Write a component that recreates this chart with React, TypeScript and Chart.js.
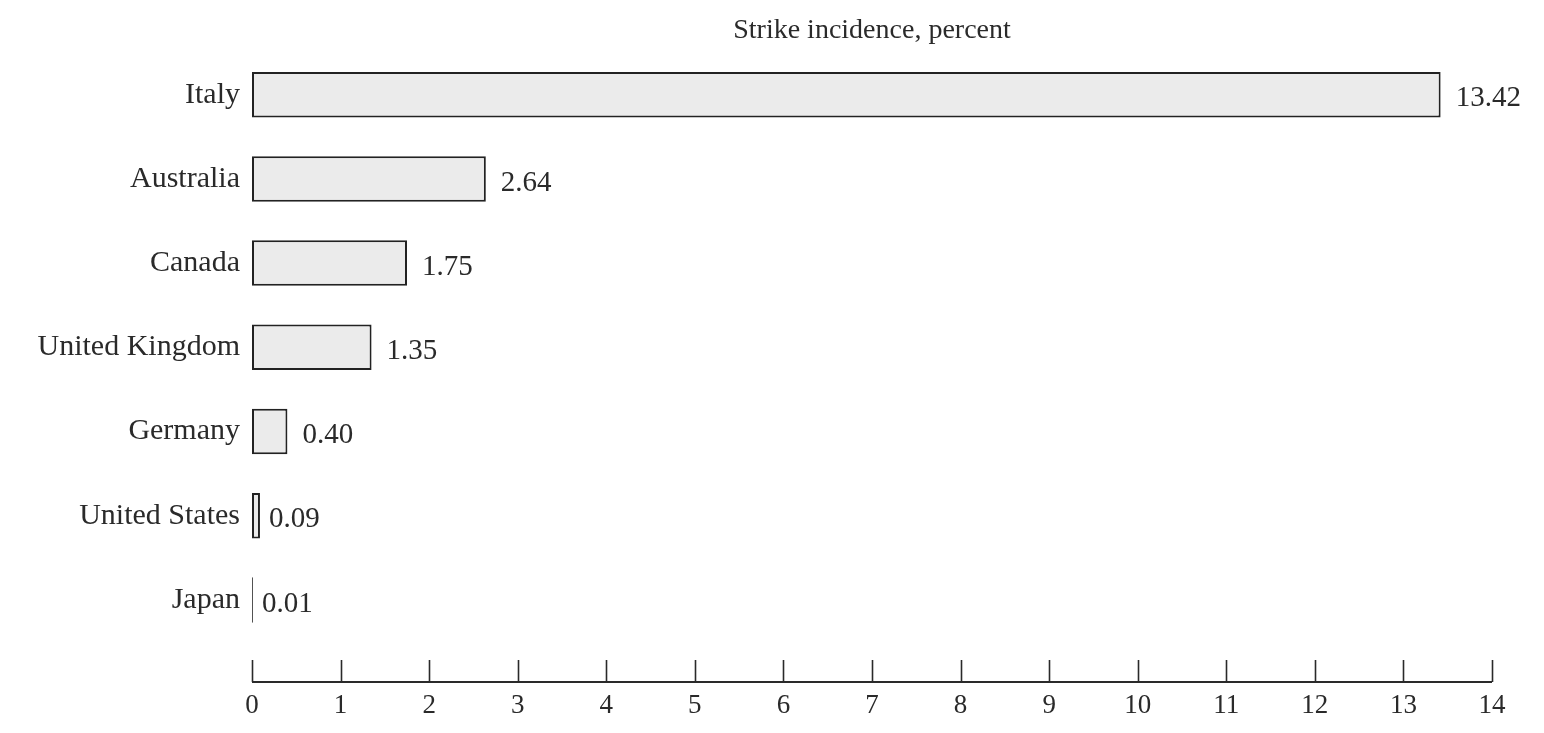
import React, { useEffect, useRef } from "react";
import { Chart, registerables } from "chart.js";

Chart.register(...registerables);

const countries = ["Italy", "Australia", "Canada", "United Kingdom", "Germany", "United States", "Japan"];
const strikeIncidence = [13.42, 2.64, 1.75, 1.35, 0.4, 0.09, 0.01];
const valueLabels = ["13.42", "2.64", "1.75", "1.35", "0.40", "0.09", "0.01"];
const axisTicks = [0, 1, 2, 3, 4, 5, 6, 7, 8, 9, 10, 11, 12, 13, 14];
const titleText = "Strike incidence, percent";

const FONT = "'Liberation Serif', 'DejaVu Serif', serif";
const INK = "#2a2a2a";

const overlayPlugin = {
  id: "overlay",
  afterDatasetsDraw(chart: any) {
    const ctx = chart.ctx;
    const xs = chart.scales.x;
    const area = chart.chartArea;
    const meta = chart.getDatasetMeta(0);
    ctx.save();
    ctx.fillStyle = INK;
    ctx.font = `29px ${FONT}`;
    ctx.textAlign = "left";
    ctx.textBaseline = "middle";
    meta.data.forEach((bar: any, i: number) => {
      const gap = i >= 5 ? 9 : 15;
      ctx.fillText(valueLabels[i], bar.x + gap, bar.y + 4);
    });
    const axisY = area.bottom + 40;
    ctx.strokeStyle = INK;
    ctx.lineWidth = 2;
    ctx.beginPath();
    ctx.moveTo(xs.getPixelForValue(axisTicks[0]), axisY);
    ctx.lineTo(xs.getPixelForValue(axisTicks[axisTicks.length - 1]), axisY);
    ctx.stroke();
    ctx.lineWidth = 1.6;
    axisTicks.forEach((t) => {
      const px = Math.round(xs.getPixelForValue(t)) + 0.5;
      ctx.beginPath();
      ctx.moveTo(px, axisY);
      ctx.lineTo(px, axisY - 22);
      ctx.stroke();
    });
    ctx.restore();
  },
};

export default function App() {
  const ref = useRef<HTMLCanvasElement | null>(null);
  useEffect(() => {
    if (!ref.current) return;
    const chart = new Chart(ref.current, {
      type: "bar",
      data: {
        labels: countries,
        datasets: [
          {
            data: strikeIncidence,
            backgroundColor: "#ebebeb",
            borderColor: "#222222",
            borderWidth: 2,
            borderSkipped: false,
            categoryPercentage: 1,
            barPercentage: 0.54,
          },
        ],
      },
      options: {
        indexAxis: "y",
        animation: false,
        responsive: false,
        layout: { padding: { top: 0, right: 44, bottom: 0, left: 0 } },
        plugins: {
          legend: { display: false },
          tooltip: { enabled: false },
          title: {
            display: true,
            text: titleText,
            fullSize: false,
            color: INK,
            font: { family: FONT, size: 28, weight: "normal" },
            padding: { top: 6, bottom: 5 },
          },
        },
        scales: {
          x: {
            type: "linear",
            min: 0,
            max: 14,
            afterBuildTicks: (scale: any) => {
              scale.ticks = axisTicks.map((v) => ({ value: v }));
            },
            afterFit: (scale: any) => {
              scale.height = 83;
            },
            grid: { display: false, drawTicks: true, tickLength: 48 },
            border: { display: false },
            ticks: {
              color: INK,
              font: { family: FONT, size: 27 },
              padding: 0,
              maxRotation: 0,
              autoSkip: false,
            },
          },
          y: {
            type: "category",
            afterFit: (scale: any) => {
              scale.width = 244;
            },
            grid: { display: false, drawTicks: false },
            border: { display: false },
            ticks: {
              color: INK,
              font: { family: FONT, size: 30 },
              padding: 12,
            },
          },
        },
      },
      plugins: [overlayPlugin],
    });
    return () => chart.destroy();
  }, []);
  return (
    <div style={{ width: 1528, height: 717, overflow: "hidden", background: "#fff" }}>
      <canvas ref={ref} width={1528} height={717} style={{ display: "block" }} />
    </div>
  );
}
